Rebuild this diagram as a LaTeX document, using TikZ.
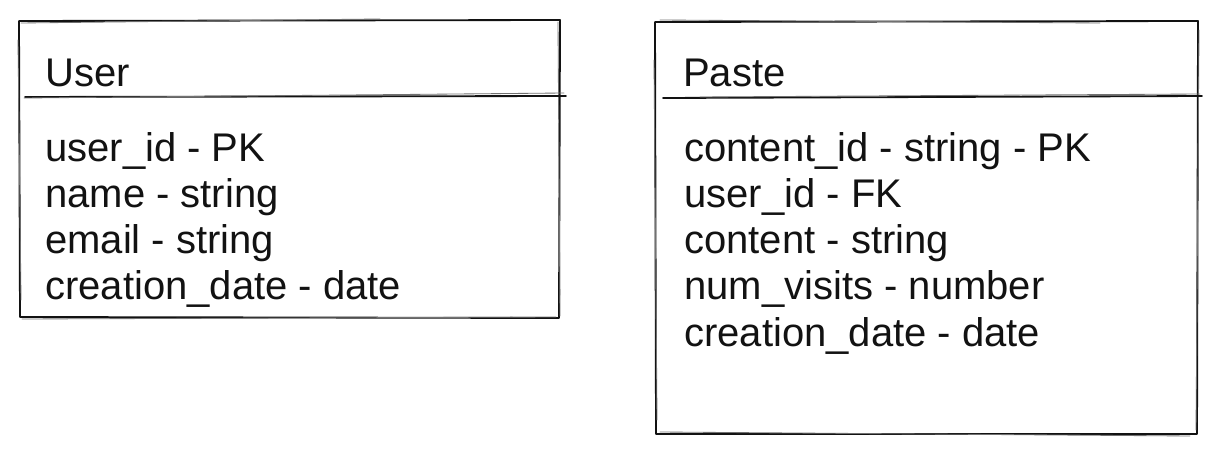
\documentclass[tikz,border=0pt]{standalone}
\usepackage{fontspec}
\setmainfont{Liberation Sans}
\usetikzlibrary{positioning}
\definecolor{ink}{RGB}{18,18,18}
\tikzset{
  edge/.style={draw=ink,line width=1.3pt,line cap=round,line join=round},
  edge ghost/.style={draw=ink!60,line width=0.6pt,line cap=round},
  title/.style={anchor=base west,inner sep=0pt,text=ink,
    font=\fontsize{28.45}{32.7}\selectfont},
  field/.style={title},
}

\begin{document}
\begin{tikzpicture}[x=0.025cm,y=-0.025cm]
  \useasboundingbox (0,0) rectangle (1220,464);
  % User table
  \draw[edge] (19,21) -- (560,20) -- (559,318) -- (20,317) -- cycle;
  \draw[edge ghost] (21,23) -- (380,19) (558,22) -- (560,316) (22,319) -- (556,317) (18,40) -- (21,300);
  \draw[edge] (25,97) -- (566,96);
  \draw[edge ghost] (24,98) -- (564,93);
  \node[title] (user) at (45,87) {User};
  \foreach \t [count=\i] in {user\_id - PK,name - string,email - string,creation\_date - date}
    \node[field] (u\i) at (45,116+46*\i) {\t};
  % Paste table
  \draw[edge] (655,22) -- (1198,21) -- (1197,434) -- (656,434) -- cycle;
  \draw[edge ghost] (660,20) -- (1100,23) (1199,30) -- (1196,430) (660,432) -- (1190,436) (654,60) -- (657,420);
  \draw[edge] (663,98) -- (1202,96);
  \draw[edge ghost] (700,97) -- (1200,94);
  \node[title] (paste) at (683,87) {Paste};
  \foreach \t [count=\i] in {content\_id - string - PK,user\_id - FK,content - string,num\_visits - number,creation\_date - date}
    \node[field] (p\i) at (684,116+46*\i) {\t};
\end{tikzpicture}
\end{document}
